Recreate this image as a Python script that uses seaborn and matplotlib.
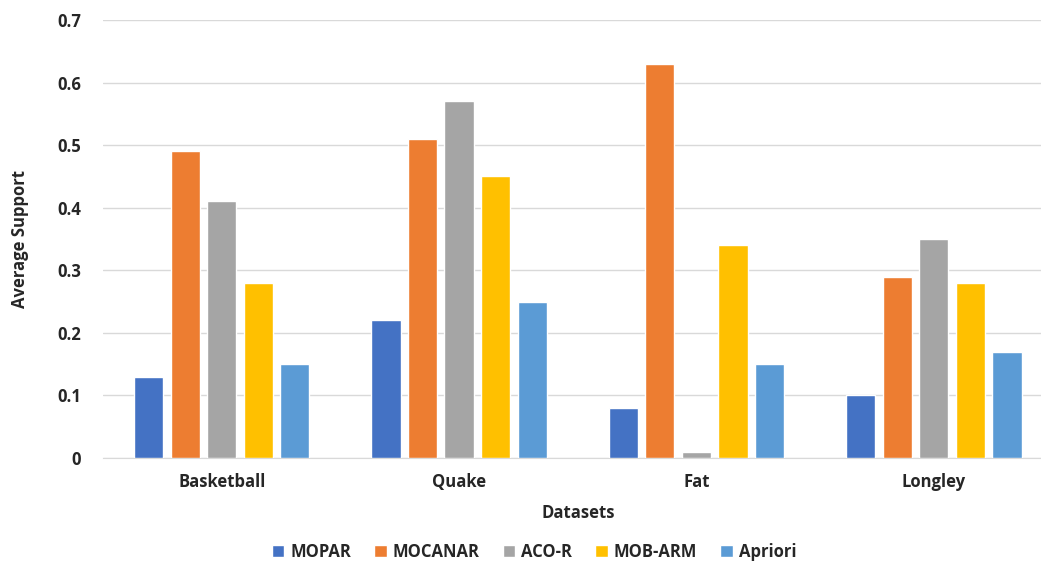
import pandas as pd
import numpy as np
import matplotlib.pyplot as plt
import seaborn as sns

# dados
datasets = ['Basketball', 'Quake', 'Fat', 'Longley']
metodos = ['MOPAR', 'MOCANAR', 'ACO-R', 'MOB-ARM', 'Apriori']
mopar = [0.13, 0.22, 0.08, 0.10]
mocanar = [0.49, 0.51, 0.63, 0.29]
aco_r = [0.41, 0.57, 0.01, 0.35]
mob_arm = [0.28, 0.45, 0.34, 0.28]
apriori = [0.15, 0.25, 0.15, 0.17]
cores = ['#4472C4', '#ED7D31', '#A5A5A5', '#FFC000', '#5B9BD5']

valores = [mopar, mocanar, aco_r, mob_arm, apriori]
df = pd.DataFrame({
    'Datasets': datasets * len(metodos),
    'Metodo': [m for m in metodos for _ in datasets],
    'Support': [v for serie in valores for v in serie],
})

sns.set_style("white")
plt.rcParams['font.family'] = ['Open Sans', 'DejaVu Sans']
plt.rcParams['font.weight'] = 'bold'

fig = plt.figure(figsize=(10.41, 5.61), dpi=100)
ax = fig.add_axes([0.099, 0.1836, 0.912, 0.7807])

sns.barplot(data=df, x='Datasets', y='Support', hue='Metodo', order=datasets,
            hue_order=metodos, palette=cores, width=0.77, gap=0.2,
            saturation=1, ax=ax, zorder=3)

ax.set_xlim(-0.5, 3.5)
ax.set_ylim(0, 0.7)
ax.set_yticks(np.arange(0, 0.71, 0.1))
ax.set_yticklabels(['0'] + [f'{v:.1f}' for v in np.arange(0.1, 0.71, 0.1)])
ax.yaxis.grid(True, color='#D9D9D9', linewidth=1.0, zorder=0)
ax.set_axisbelow(True)
for lado in ['top', 'right', 'left']:
    ax.spines[lado].set_visible(False)
ax.spines['bottom'].set_color('#D9D9D9')
ax.tick_params(axis='both', length=0, labelsize=12)
ax.tick_params(axis='y', pad=16)
ax.tick_params(axis='x', pad=11)
for t in ax.get_xticklabels() + ax.get_yticklabels():
    t.set_fontweight('bold')

ax.set_xlabel('Datasets', fontsize=12, fontweight='bold', labelpad=9)
ax.set_ylabel('Average Support', fontsize=12, fontweight='bold', labelpad=20)

ax.legend_.remove()
handles, labels = ax.get_legend_handles_labels()
fig.legend(handles, labels, loc='center', bbox_to_anchor=(0.513, 0.016),
           ncol=5, frameon=False, handlelength=0.75,
           handleheight=0.75, handletextpad=0.35, columnspacing=1.4,
           prop={'weight': 'bold', 'size': 12})

fig.savefig('out.png', dpi=100)
